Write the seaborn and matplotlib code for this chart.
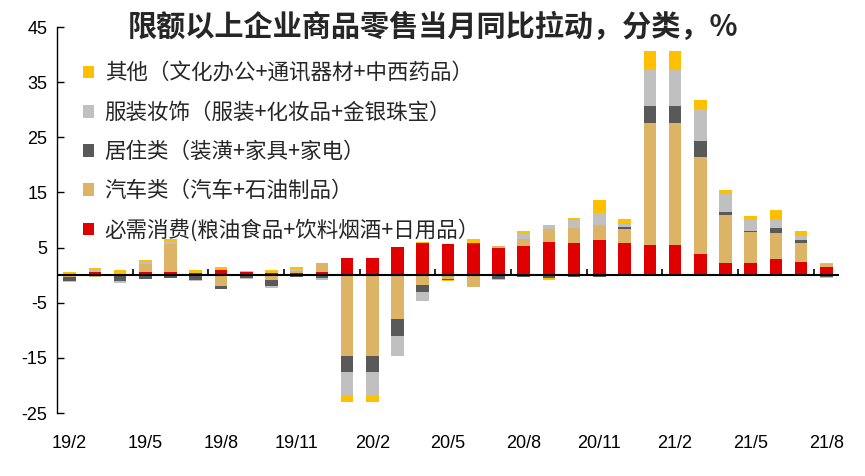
import numpy as np
import pandas as pd
import matplotlib
matplotlib.use("Agg")
import matplotlib.pyplot as plt
import seaborn as sns
from matplotlib.patches import Patch

months = ["19/2", "19/3", "19/4", "19/5", "19/6", "19/7", "19/8", "19/9", "19/10", "19/11", "19/12",
          "20/1", "20/2", "20/3", "20/4", "20/5", "20/6", "20/7", "20/8", "20/9", "20/10", "20/11", "20/12",
          "21/1", "21/2", "21/3", "21/4", "21/5", "21/6", "21/7", "21/8"]

essential = [0.2, 0.5, 0.05, 0.5, 0.5, 0.4, 1.0, 0.6, 0.45, 0.45, 0.6,
             3.15, 3.15, 5.1, 5.85, 5.7, 5.6, 4.95, 5.3, 6.0, 5.85, 6.4, 5.85,
             5.5, 5.5, 3.85, 2.25, 2.25, 2.95, 2.4, 1.5]
auto = [-0.4, -0.25, 0.0, 1.45, 5.2, -0.2, -1.95, 0.0, -0.85, 0.35, 1.6,
        -14.6, -14.6, -7.9, -1.75, -0.65, -2.1, 0.35, 1.25, 2.35, 2.7, 2.7, 2.55,
        22.1, 22.1, 17.6, 8.7, 5.6, 4.7, 3.45, 0.5]
housing = [-0.7, 0.15, -1.0, -0.65, -0.45, -0.75, -0.5, -0.5, -1.1, -0.25, -0.6,
           -2.9, -2.9, -3.1, -1.25, -0.2, 0.25, -0.65, -0.3, -0.55, -0.3, -0.3, 0.35,
           3.1, 3.1, 2.9, 0.55, 0.2, 0.9, 0.55, -0.25]
apparel = [-0.2, 0.2, -0.35, 0.35, 0.4, -0.2, 0.0, -0.2, -0.35, 0.25, -0.15,
           -4.35, -4.35, -3.4, -1.6, 0.0, 0.0, -0.2, 0.9, 0.7, 1.45, 2.15, 0.55,
           6.5, 6.5, 5.8, 3.15, 2.0, 1.45, 0.7, -0.35]
other = [0.35, 0.5, 0.8, 0.5, 0.5, 0.55, 0.5, 0.2, 0.5, 0.5, -0.2,
         -1.1, -1.1, -0.25, 0.2, -0.2, 0.7, -0.1, 0.55, -0.25, 0.35, 2.35, 0.9,
         3.45, 3.45, 1.65, 0.85, 0.7, 1.8, 0.9, 0.25]

series_names = ["必需消费(粮油食品+饮料烟酒+日用品）",
                "汽车类（汽车+石油制品）",
                "居住类（装潢+家具+家电）",
                "服装妆饰（服装+化妆品+金银珠宝）",
                "其他（文化办公+通讯器材+中西药品）"]
series_values = [essential, auto, housing, apparel, other]
colors = ["#E00000", "#DDB466", "#595959", "#C0C0C0", "#FFC000"]

tick_labels = ["19/2", "19/5", "19/8", "19/11", "20/2", "20/5", "20/8", "20/11", "21/2", "21/5", "21/8"]
yticks = [-25, -15, -5, 5, 15, 25, 35, 45]
title = "限额以上企业商品零售当月同比拉动，分类，%"

sns.set_theme(style="white")
plt.rcParams["font.family"] = ["Liberation Sans", "Noto Sans CJK SC", "DejaVu Sans"]

fig = plt.figure(figsize=(8.65, 4.76), dpi=100)
ax = fig.add_axes([57 / 865, 1 - 413 / 476, (839 - 57) / 865, (413 - 27) / 476])

pos_cum = np.zeros(len(months))
neg_cum = np.zeros(len(months))
for name, vals, col in zip(series_names, series_values, colors):
    v = np.array(vals, dtype=float)
    bottom = np.where(v >= 0, pos_cum, neg_cum)
    df = pd.DataFrame({"month": months, "value": v})
    sns.barplot(data=df, x="month", y="value", order=months, color=col,
                width=0.5, errorbar=None, bottom=bottom, linewidth=0,
                saturation=1, ax=ax)
    pos_cum = pos_cum + np.where(v >= 0, v, 0)
    neg_cum = neg_cum + np.where(v < 0, v, 0)

ax.set_xlim(-0.5, len(months) - 0.5)
ax.set_ylim(-25, 45)
ax.set_yticks(yticks)
ax.set_yticklabels([str(t) for t in yticks], fontsize=13, color="black")
ax.tick_params(axis="y", direction="in", length=5, width=1, color="black", pad=7, left=True)

tick_pos = [months.index(t) for t in tick_labels]
ax.set_xticks(tick_pos)
ax.set_xticklabels(tick_labels, fontsize=13, color="black")
ax.tick_params(axis="x", length=0, pad=16)
ax.set_xlabel("")
ax.set_ylabel("")

for s in ["top", "right", "bottom"]:
    ax.spines[s].set_visible(False)
ax.spines["left"].set_color("black")
ax.spines["left"].set_linewidth(1)

ax.axhline(0, color="black", linewidth=1.5, zorder=5)
sep = np.arange(2.5, len(months) - 0.5, 3)
ax.vlines(sep, 0, 1.2, color="black", linewidth=1.2, zorder=5)

handles = [Patch(facecolor=c, edgecolor="none") for c in colors][::-1]
labels = series_names[::-1]
leg = ax.legend(handles, labels, loc="upper left",
                bbox_to_anchor=(83 / 865, 1 - 63 / 476), bbox_transform=fig.transFigure,
                frameon=False, prop={"family": ["Noto Sans CJK SC"], "size": 15.5},
                handlelength=0.5, handleheight=0.5, handletextpad=0.5,
                labelspacing=0.79, borderpad=0, borderaxespad=0)

fig.text(0.5, 1 - 27 / 476, title, ha="center", va="center", fontsize=21,
         fontweight="bold", family=["Noto Sans CJK SC", "DejaVu Sans"])

fig.savefig("out.png", dpi=100)
